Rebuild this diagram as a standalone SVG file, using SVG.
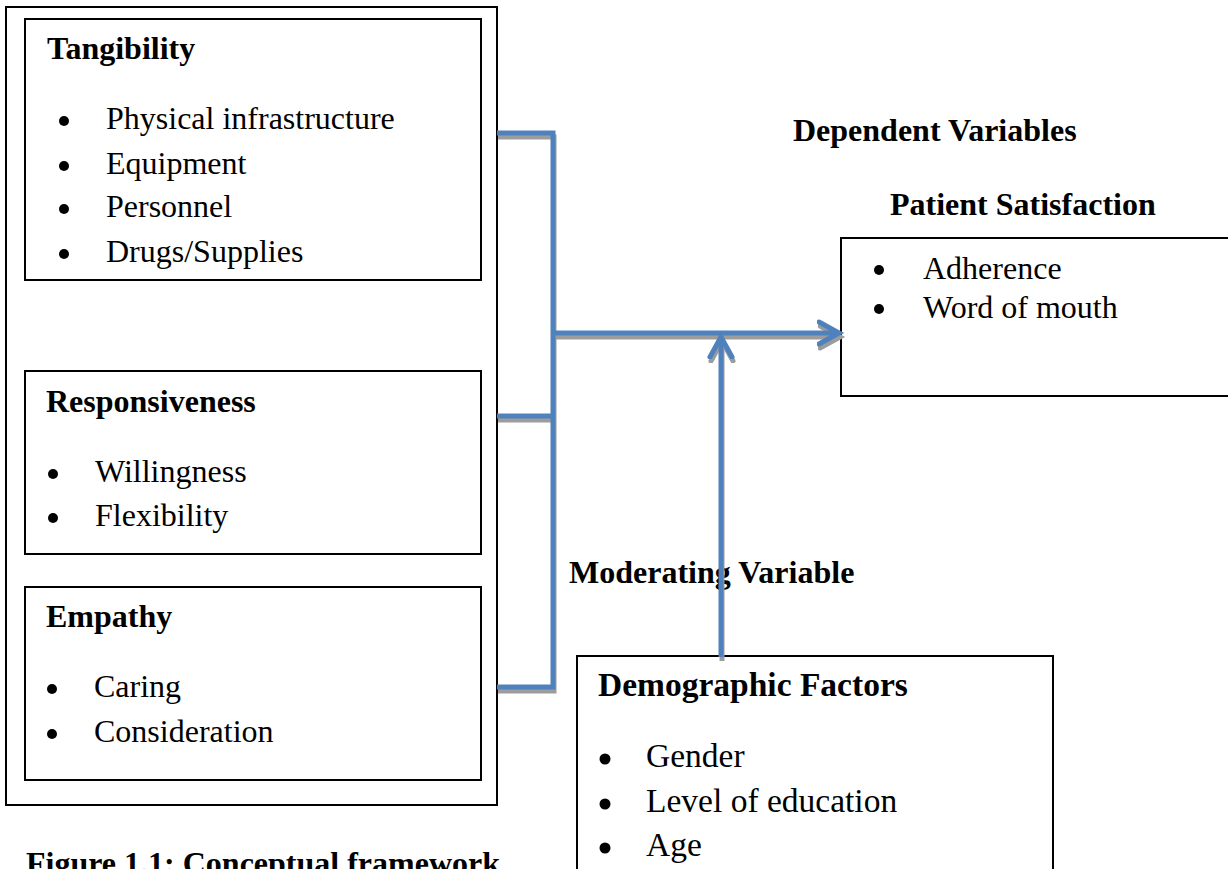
<svg xmlns="http://www.w3.org/2000/svg" width="1228" height="869" viewBox="0 0 1228 869">
<style>
.box{fill:#fff;stroke:#000;stroke-width:2}
.h{font-family:"Liberation Serif","Times New Roman",serif;font-weight:bold;font-size:32px;fill:#000}
.t{font-family:"Liberation Serif","Times New Roman",serif;font-size:32px;fill:#000}
.hc{font-family:"Liberation Serif",Cambria,serif;font-weight:bold;font-size:33.5px;fill:#000}
.tc{font-family:"Liberation Serif",Cambria,serif;font-size:33.5px;fill:#000}
.b{fill:#000}
.ln{fill:none;stroke:#4F81BD;stroke-width:5}
.sh{fill:none;stroke:#9c9c9c;stroke-width:5}
</style>
<defs>
<marker id="ab" markerUnits="userSpaceOnUse" markerWidth="40" markerHeight="40" refX="22" refY="20" orient="auto">
<path d="M2,9 L22,20 L2,31" fill="none" stroke="#4F81BD" stroke-width="5" stroke-linecap="round" stroke-linejoin="miter"/>
</marker>
<marker id="as" markerUnits="userSpaceOnUse" markerWidth="40" markerHeight="40" refX="22" refY="20" orient="auto">
<path d="M2,9 L22,20 L2,31" fill="none" stroke="#9c9c9c" stroke-width="5" stroke-linecap="round" stroke-linejoin="miter"/>
</marker>
</defs>
<rect width="1228" height="869" fill="#fff"/>

<g id="independent">
<rect class="box" x="6" y="7" width="491" height="798"/>
</g>

<g id="tangibility">
<rect class="box" x="25" y="19" width="456" height="261"/>
<text class="h" x="47" y="59">Tangibility</text>
<circle class="b" cx="64" cy="121" r="5"/><text class="t" x="106" y="129">Physical infrastructure</text>
<circle class="b" cx="64" cy="166" r="5"/><text class="t" x="106" y="174">Equipment</text>
<circle class="b" cx="64" cy="209" r="5"/><text class="t" x="106" y="217">Personnel</text>
<circle class="b" cx="64" cy="254" r="5"/><text class="t" x="106" y="262">Drugs/Supplies</text>
</g>

<g id="responsiveness">
<rect class="box" x="25" y="371" width="456" height="183"/>
<text class="h" x="46" y="412">Responsiveness</text>
<circle class="b" cx="53" cy="474" r="5"/><text class="t" x="95" y="482">Willingness</text>
<circle class="b" cx="53" cy="518" r="5"/><text class="t" x="95" y="526">Flexibility</text>
</g>

<g id="empathy">
<rect class="box" x="25" y="587" width="456" height="193"/>
<text class="h" x="46" y="627">Empathy</text>
<circle class="b" cx="52" cy="689" r="5"/><text class="t" x="94" y="697">Caring</text>
<circle class="b" cx="52" cy="734" r="5"/><text class="t" x="94" y="742">Consideration</text>
</g>

<g id="caption">
<text class="h" x="26" y="874">Figure 1.1: Conceptual framework</text>
</g>

<g id="dependent-label">
<text class="h" x="793" y="141">Dependent Variables</text>
</g>

<g id="patient-satisfaction">
<text class="h" x="890" y="215">Patient Satisfaction</text>
<rect class="box" x="841" y="238" width="420" height="158"/>
<circle class="b" cx="879" cy="270" r="5"/><text class="t" x="923" y="279">Adherence</text>
<circle class="b" cx="879" cy="309" r="5"/><text class="t" x="923" y="318">Word of mouth</text>
</g>

<g id="moderating-label">
<text class="h" x="569" y="583">Moderating Variable</text>
</g>

<g id="demographic">
<rect class="box" x="577" y="656" width="476" height="240"/>
<text class="hc" x="598" y="696">Demographic Factors</text>
<circle class="b" cx="605" cy="759" r="5.5"/><text class="tc" x="646" y="767">Gender</text>
<circle class="b" cx="605" cy="804" r="5.5"/><text class="tc" x="646" y="812">Level of education</text>
<circle class="b" cx="605" cy="848" r="5.5"/><text class="tc" x="646" y="856">Age</text>
</g>

<g id="connectors">
<g transform="translate(1,4)">
<path class="sh" d="M497,133 H553 V687 H497"/>
<path class="sh" d="M497,416 H553"/>
<path class="sh" d="M553,333 H839" marker-end="url(#as)"/>
<path class="sh" d="M721,657 V337" marker-end="url(#as)"/>
</g>
<path class="ln" d="M497,133 H553 V687 H497"/>
<path class="ln" d="M497,416 H553"/>
<path class="ln" d="M553,333 H839" marker-end="url(#ab)"/>
<path class="ln" d="M721,657 V337" marker-end="url(#ab)"/>
</g>
</svg>
